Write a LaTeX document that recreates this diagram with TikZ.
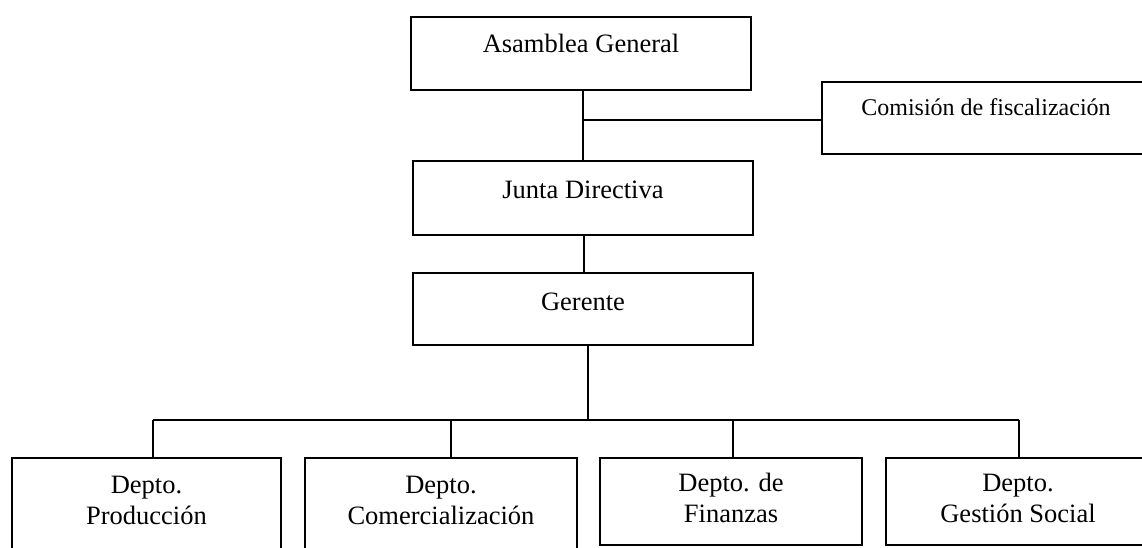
\documentclass[tikz,border=0pt]{standalone}
\usepackage{fontspec}
\setmainfont{Liberation Serif}
\begin{document}
\begin{tikzpicture}[x=1pt,y=-1pt,
  box/.style={draw, line width=2pt, inner sep=0pt},
  lbl/.style={font=\fontsize{26.5}{31}\selectfont, align=center},
  wire/.style={line width=2pt}]
\useasboundingbox (0,0) rectangle (1142,547);
\clip (0,0) rectangle (1142,547);
% boxes
\node[box, minimum width=340pt, minimum height=73pt,
  label={[lbl, yshift=10.5pt]center:Asamblea General}] (asm) at (581,53.5) {};
\node[box, minimum width=328pt, minimum height=72pt,
  label={[lbl, font=\fontsize{24}{28}\selectfont, yshift=11pt]center:Comisión de fiscalización}] (com) at (986,118) {};
\node[box, minimum width=340pt, minimum height=74pt,
  label={[lbl, yshift=8pt]center:Junta Directiva}] (jun) at (583,198) {};
\node[box, minimum width=340pt, minimum height=72pt,
  label={[lbl, yshift=7pt]center:Gerente}] (ger) at (583,309) {};
\node[box, minimum width=269pt, minimum height=94pt,
  label={[lbl, yshift=5pt]center:{Depto.\\Producción}}] (prod) at (146.5,505) {};
\node[box, minimum width=272pt, minimum height=94pt,
  label={[lbl, yshift=5pt]center:{Depto.\\Comercialización}}] (come) at (441,505) {};
\node[box, minimum width=262pt, minimum height=87pt,
  label={[lbl, yshift=3.5pt]center:{Depto. de\\Finanzas}}] (fin) at (731,501.5) {};
\node[box, minimum width=264pt, minimum height=87pt,
  label={[lbl, yshift=3.5pt]center:{Depto.\\Gestión Social}}] (gest) at (1018,501.5) {};
% connectors
\coordinate (j1) at (583,120);
\draw[wire] (asm.south -| j1) -- (jun.north -| j1);
\draw[wire] (j1) -- (com.west |- j1);
\coordinate (j2) at (584,0);
\draw[wire] (jun.south -| j2) -- (ger.north -| j2);
\coordinate (bus) at (588,420);
\coordinate (d1) at (153,420);
\coordinate (d2) at (451,420);
\coordinate (d3) at (733,420);
\coordinate (d4) at (1019,420);
\draw[wire] (ger.south -| bus) -- (bus);
\draw[wire] (d1) -- (d4);
\draw[wire] (d1) -- (d1 |- prod.north);
\draw[wire] (d2) -- (d2 |- come.north);
\draw[wire] (d3) -- (d3 |- fin.north);
\draw[wire] (d4) -- (d4 |- gest.north);
\end{tikzpicture}
\end{document}
